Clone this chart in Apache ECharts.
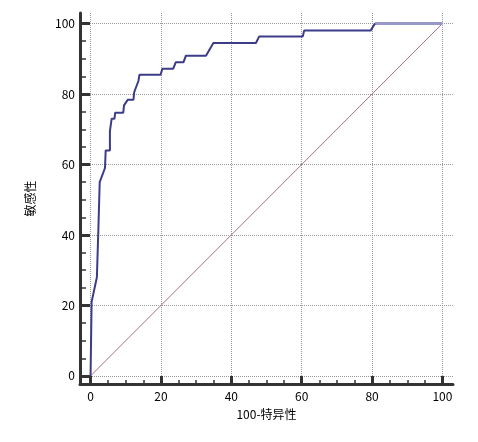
<!DOCTYPE html>
<html>
<head>
<meta charset="utf-8">
<script src="https://cdn.jsdelivr.net/npm/echarts@6/dist/echarts.min.js"></script>
<style>
  html, body { margin: 0; padding: 0; background: #fff; }
  #chart { width: 478px; height: 442px; }
</style>
</head>
<body>
<div id="chart"></div>
<script>
// ROC curve points: [100-特异性, 敏感性]
const rocPoints = [
  [0, 0], [0.3, 21], [1.8, 28], [2.2, 41], [2.6, 55], [4.1, 59], [4.3, 64],
  [5.5, 64], [5.5, 69.5], [6, 73], [6.8, 73], [7, 74.7], [9.3, 74.7],
  [9.5, 76.8], [10.6, 78.4], [12.2, 78.4], [12.4, 80.5], [13.6, 83.7],
  [13.9, 85.5], [19.9, 85.5], [20.4, 87.2], [23.5, 87.2], [24.2, 89],
  [26.4, 89], [27.1, 90.9], [32.8, 90.9], [34.9, 94.5], [47, 94.5],
  [47.9, 96.3], [60.3, 96.3], [60.7, 98], [79.6, 98], [80.8, 100]
]
const rocTail = [[80.8, 100], [100, 100]]
const diagonal = [[0, 0], [100, 100]]
const tickValues = [0, 20, 40, 60, 80, 100]
const minorTickValues = [5, 10, 15, 25, 30, 35, 45, 50, 55, 65, 70, 75, 85, 90, 95]

const chart = echarts.init(document.getElementById('chart'))
const font = '"Noto Sans CJK SC", "DejaVu Sans", sans-serif'
const axisColor = '#333'

function majorAxis(min, max, name, extra) {
  return Object.assign({
    type: 'value', min: min, max: max,
    axisLine: { show: true, onZero: false, lineStyle: { color: axisColor, width: 3 } },
    axisTick: { show: true, inside: true, customValues: tickValues, lineStyle: { color: axisColor, width: 3 } },
    axisLabel: { show: true, customValues: tickValues, color: '#000', fontSize: 12, fontFamily: font },
    splitLine: { show: true, lineStyle: { color: '#999', type: 'dotted', width: 1 } },
    name: name, nameLocation: 'middle',
    nameTextStyle: { color: '#000', fontSize: 12, fontFamily: font }
  }, extra)
}

function minorAxis(min, max, pos, len) {
  return {
    type: 'value', min: min, max: max, position: pos, offset: 0,
    axisLine: { show: false, onZero: false },
    axisTick: { show: true, inside: true, length: len, customValues: minorTickValues, lineStyle: { color: axisColor, width: 1.5 } },
    axisLabel: { show: false },
    splitLine: { show: false }
  }
}

const option = {
  backgroundColor: '#fff',
  animation: false,
  grid: { left: 80, right: 25, top: 13, bottom: 58 },
  xAxis: [
    majorAxis(-3, 103, '100-特异性', { position: 'bottom', nameGap: 24 }),
    minorAxis(-3, 103, 'bottom', 4)
  ],
  yAxis: [
    majorAxis(-2.3, 103, '敏感性', { position: 'left', nameGap: 44, nameRotate: 90 }),
    minorAxis(-2.3, 103, 'left', 6)
  ],
  series: [
    {
      type: 'line', data: diagonal,
      symbol: 'none', lineStyle: { color: '#a8708a', width: 1 }, z: 2
    },
    {
      type: 'line', data: rocTail,
      symbol: 'none', lineStyle: { color: '#9898c8', width: 3 }, z: 3
    },
    {
      type: 'line', data: rocPoints,
      symbol: 'none', lineStyle: { color: '#3c3c88', width: 2 }, z: 4
    }
  ]
}
option.xAxis[0].axisTick.length = 8
option.xAxis[0].axisLabel.margin = 6
option.yAxis[0].axisTick.length = 10
option.yAxis[0].axisLabel.margin = 5

chart.setOption(option)
</script>
</body>
</html>
